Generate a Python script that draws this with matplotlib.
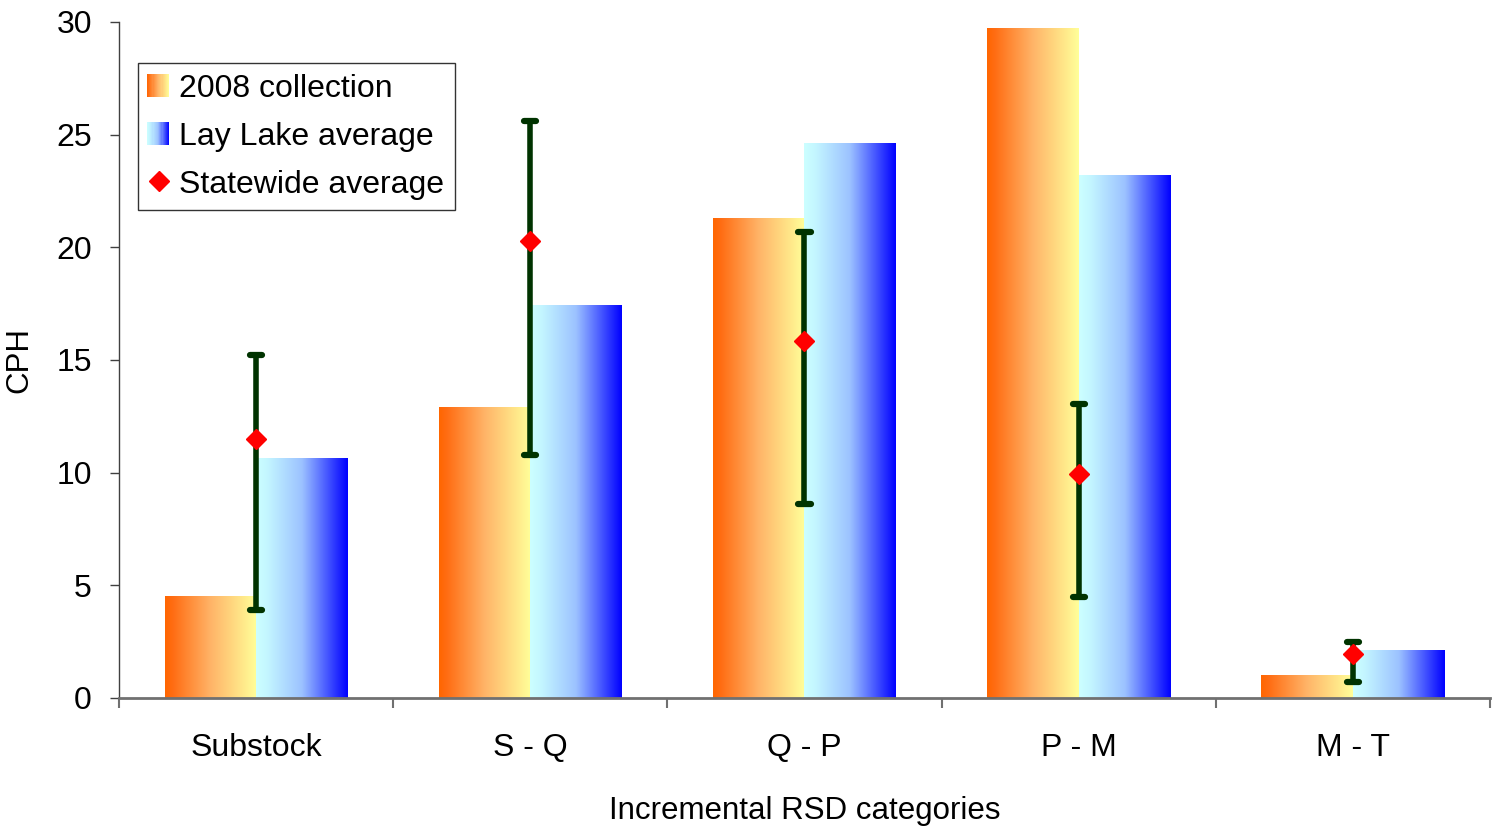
"""CPH by incremental RSD category, with gradient bars."""

import matplotlib
matplotlib.use("Agg")
import matplotlib.pyplot as plt
import numpy as np
from matplotlib.colors import LinearSegmentedColormap
from matplotlib.legend_handler import HandlerBase
from matplotlib.lines import Line2D
from matplotlib.patches import Patch, Rectangle

plt.rcParams["font.family"] = ["Liberation Sans", "DejaVu Sans"]

categories = ["Substock", "S - Q", "Q - P", "P - M", "M - T"]
collection_2008 = [4.5, 12.9, 21.3, 29.7, 1.0]
lay_lake_avg = [10.65, 17.4, 24.6, 23.2, 2.1]
statewide_avg = [11.5, 20.3, 15.85, 9.95, 1.95]
statewide_low = [3.9, 10.8, 8.6, 4.5, 0.7]
statewide_high = [15.2, 25.6, 20.7, 13.05, 2.5]

warm = LinearSegmentedColormap.from_list(
    "warm", [(0, "#FF6600"), (0.08, "#FF6C12"), (0.5, "#FFB468"), (1, "#FFFF99")]
)
cool = LinearSegmentedColormap.from_list(
    "cool", [(0, "#CCFFFF"), (0.12, "#C4F6FF"), (0.5, "#9CC2FF"), (1, "#0000FF")]
)
ramp = np.linspace(0, 1, 256).reshape(1, -1)


class GradientHandler(HandlerBase):
    def __init__(self, cmap, steps=20):
        super().__init__()
        self.cmap = cmap
        self.steps = steps

    def create_artists(self, legend, orig_handle, xdescent, ydescent,
                       width, height, fontsize, trans):
        size = height * 1.0
        x0 = xdescent + width - size
        y0 = -ydescent + (height - size) / 2
        step = size / self.steps
        arts = []
        for i in range(self.steps):
            arts.append(Rectangle((x0 + i * step, y0), step * 1.05, size,
                                  facecolor=self.cmap((i + 0.5) / self.steps),
                                  edgecolor="none", transform=trans))
        return arts


fig = plt.figure(figsize=(14.97, 8.27), dpi=100)
ax = fig.add_axes([0.0795, 0.156, 0.9158, 0.8174])

x = np.arange(len(categories))
w = 1 / 3

bars_a = ax.bar(x - w / 2, collection_2008, w, color="none", edgecolor="none")
bars_b = ax.bar(x + w / 2, lay_lake_avg, w, color="none", edgecolor="none")
for bars, cmap in ((bars_a, warm), (bars_b, cool)):
    for b in bars:
        x0, y0 = b.get_x(), b.get_y()
        ax.imshow(ramp, cmap=cmap, aspect="auto", interpolation="bilinear",
                  extent=(x0, x0 + b.get_width(), y0, y0 + b.get_height()),
                  zorder=2)

# error bars with rounded caps
err_color = "#003300"
ax.vlines(x, statewide_low, statewide_high, color=err_color, linewidth=4,
          zorder=3)
cap = 0.022
for ends in (statewide_low, statewide_high):
    ax.hlines(ends, x - cap, x + cap, color=err_color, linewidth=4.5,
              capstyle="round", zorder=3)
ax.plot(x, statewide_avg, linestyle="none", marker="D", markersize=10,
        color="#FF0000", zorder=4)

ax.set_xlim(-0.5, len(categories) - 0.5)
ax.set_ylim(0, 30)
ax.set_yticks(np.arange(0, 31, 5))
ax.set_xticks(np.arange(-0.5, len(categories), 1))
ax.set_xticklabels([])
ax.set_xticks(x, minor=True)
ax.set_xticklabels(categories, minor=True)
ax.tick_params(axis="x", which="minor", length=0, pad=25, labelsize=23)
ax.tick_params(axis="x", which="major", length=7, width=1.5, color="#707070")
ax.tick_params(axis="y", length=6.5, width=1, color="#404040", labelsize=23,
               pad=13)

for side in ("top", "right"):
    ax.spines[side].set_visible(False)
ax.spines["left"].set_color("#404040")
ax.spines["left"].set_linewidth(1)
ax.spines["bottom"].set_color("#707070")
ax.spines["bottom"].set_linewidth(2)

ax.set_xlabel("Incremental RSD categories", fontsize=22.5, labelpad=24)
ax.set_ylabel("CPH", fontsize=22.5, labelpad=16)

h_a = Patch(label="2008 collection")
h_b = Patch(label="Lay Lake average")
h_c = Line2D([], [], linestyle="none", marker="D", markersize=10,
             color="#FF0000", label="Statewide average")
leg = ax.legend(handles=[h_a, h_b, h_c], loc="upper left",
                bbox_to_anchor=(0.0138, 0.939), fontsize=23, frameon=True,
                fancybox=False, edgecolor="black", handlelength=0.65,
                handletextpad=0.31, borderpad=0.33, labelspacing=0.56,
                borderaxespad=0, handler_map={h_a: GradientHandler(warm),
                                              h_b: GradientHandler(cool)})
leg.get_frame().set_linewidth(1.0)

fig.savefig("out.png", dpi=100)
